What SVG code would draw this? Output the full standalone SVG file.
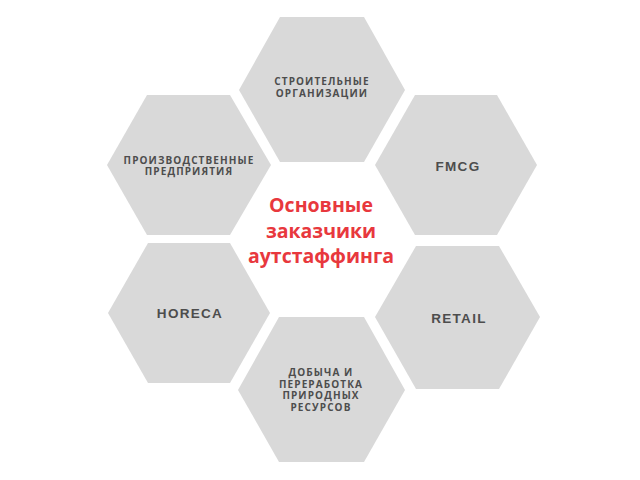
<svg xmlns="http://www.w3.org/2000/svg" width="640" height="480" viewBox="0 0 640 480">
<defs>
<style>
.hex{fill:#d9d9d9}
.sm{font-family:"Open Sans","DejaVu Sans",sans-serif;font-weight:700;font-size:10px;letter-spacing:1.1px;fill:#4d4d4d;text-anchor:middle}
.lg{font-family:"Liberation Sans",Arial,sans-serif;font-weight:700;font-size:13.5px;letter-spacing:1.3px;fill:#4d4d4d;text-anchor:middle}
.ttl{font-family:"Open Sans","DejaVu Sans",sans-serif;font-weight:700;font-size:19.5px;fill:#e8383d;text-anchor:middle}
</style>
</defs>
<rect width="640" height="480" fill="#ffffff"/>
<g id="connectors"></g>
<g id="n-top">
<polygon class="hex" points="239,90 280,17 364,17 405,90 364,162 280,162"/>
<text class="sm" x="322" y="85">СТРОИТЕЛЬНЫЕ</text>
<text class="sm" x="322" y="97">ОРГАНИЗАЦИИ</text>
</g>
<g id="n-topleft">
<polygon class="hex" points="107,165 147,95 230,95 271,165 230,235 147,235"/>
<text class="sm" x="189" y="164">ПРОИЗВОДСТВЕННЫЕ</text>
<text class="sm" x="189" y="175">ПРЕДПРИЯТИЯ</text>
</g>
<g id="n-topright">
<polygon class="hex" points="375,165 415,95 497,95 537,165 497,235 415,235"/>
<text class="lg" x="458" y="171">FMCG</text>
</g>
<g id="n-botleft">
<polygon class="hex" points="108,313 148,243 230,243 270,313 230,383 148,383"/>
<text class="lg" x="190" y="318">HORECA</text>
</g>
<g id="n-botright">
<polygon class="hex" points="375,317 416,246 499,246 540,317 499,389 416,389"/>
<text class="lg" x="459" y="323">RETAIL</text>
</g>
<g id="n-bottom">
<polygon class="hex" points="238,390 279,317 364,317 405,390 364,462 279,462"/>
<text class="sm" x="321" y="376">ДОБЫЧА И</text>
<text class="sm" x="321" y="387.5">ПЕРЕРАБОТКА</text>
<text class="sm" x="321" y="399">ПРИРОДНЫХ</text>
<text class="sm" x="321" y="410.5">РЕСУРСОВ</text>
</g>
<g id="n-center">
<text class="ttl" x="321" y="212">Основные</text>
<text class="ttl" x="321" y="238">заказчики</text>
<text class="ttl" x="321" y="263">аутстаффинга</text>
</g>
</svg>
